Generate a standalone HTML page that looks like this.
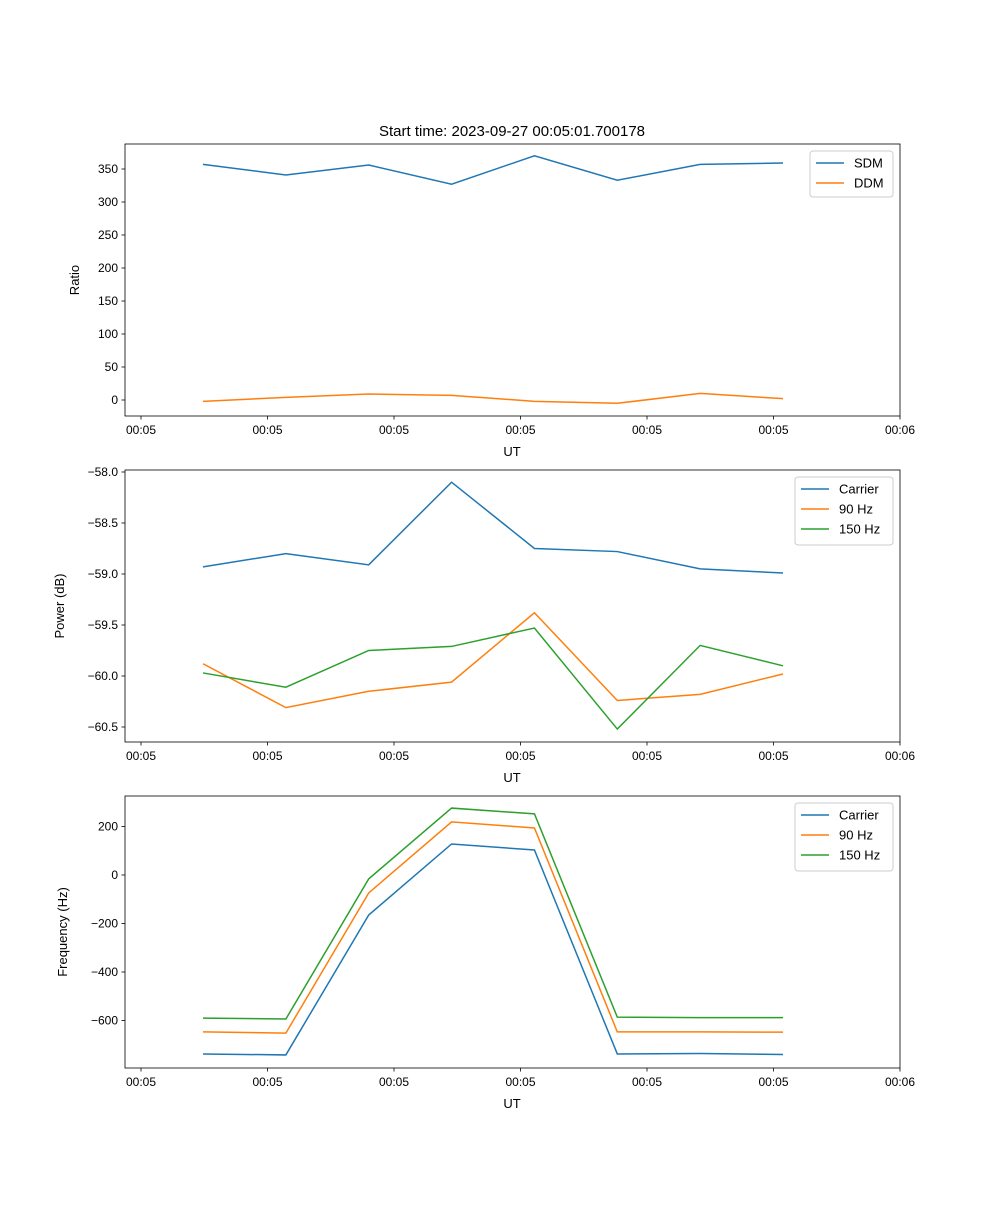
<!DOCTYPE html>
<html><head><meta charset="utf-8"><style>
body{margin:0;background:#fff}
svg{font-family:"Liberation Sans","DejaVu Sans",sans-serif}
</style></head><body>
<svg id="chart" width="1000" height="1200" xmlns="http://www.w3.org/2000/svg"></svg>
<script>
const xIndex=[0,1,2,3,4,5,6,7];
const xTickLabels=["00:05","00:05","00:05","00:05","00:05","00:05","00:06"];
const sdm=[357,341,356,327,370,333,357,359];
const ddm=[-2,4,9,7,-2,-5,10,2];
const ratioTicks=[0,50,100,150,200,250,300,350];
const powCarrier=[-58.93,-58.80,-58.91,-58.10,-58.75,-58.78,-58.95,-58.99];
const pow90=[-59.88,-60.31,-60.15,-60.06,-59.38,-60.24,-60.18,-59.98];
const pow150=[-59.97,-60.11,-59.75,-59.71,-59.53,-60.52,-59.70,-59.90];
const powTicks=[-58.0,-58.5,-59.0,-59.5,-60.0,-60.5];
const freqCarrier=[-738,-742,-165,128,103,-738,-736,-740];
const freq90=[-647,-652,-74,219,194,-647,-647,-648];
const freq150=[-590,-594,-16,276,252,-586,-588,-588];
const freqTicks=[-600,-400,-200,0,200];

const svg=document.getElementById('chart');
const NS="http://www.w3.org/2000/svg";
function el(t,a,p){const e=document.createElementNS(NS,t);for(const k in a)e.setAttribute(k,a[k]);(p||svg).appendChild(e);return e;}
const X0=125,X1=900;
function xs(i){return 203+i*82.86;}
function xt(j){return 141+j*126.5;}
const C=['#1f77b4','#ff7f0e','#2ca02c'];
function panel(name,top,ys,ticks,fmt,ylabel,series,names,leg){
  const g=el('g',{});
  
  
  const bot=top+272;
  series.forEach((s,k)=>{
    const pl=el('polyline',{points:s.map((v,i)=>xs(xIndex[i])+','+ys(v)).join(' '),fill:'none',stroke:C[k],'stroke-width':1.5},g);
    
    
  });
  el('rect',{x:X0,y:top,width:X1-X0,height:272,fill:'none',stroke:'#000','stroke-width':0.8},g);
  ticks.forEach(t=>{const y=ys(t);
    el('line',{x1:X0-3.5,x2:X0,y1:y,y2:y,stroke:'#000','stroke-width':0.8},g);
    const tx=el('text',{x:X0-7,y:y+4,'text-anchor':'end','font-size':12},g);tx.textContent=fmt(t);
    });
  xTickLabels.forEach((l,j)=>{const x=xt(j);
    el('line',{x1:x,x2:x,y1:bot,y2:bot+3.5,stroke:'#000','stroke-width':0.8},g);
    const tx=el('text',{x:x,y:bot+18,'text-anchor':'middle','font-size':12},g);tx.textContent=l;
    });
  const xl=el('text',{x:512,y:bot+40,'text-anchor':'middle','font-size':13},g);xl.textContent='UT';
  
  const yx=leg[4];
  const yl=el('text',{x:yx,y:top+136,'text-anchor':'middle','font-size':13,transform:`rotate(-90 ${yx} ${top+136})`},g);yl.textContent=ylabel;
  
  const lg=el('g',{},g);
  el('rect',{x:leg[0],y:leg[1],width:leg[2],height:leg[3],fill:'#fff',stroke:'#ccc',rx:3},lg);
  names.forEach((n,k)=>{const y=leg[1]+12+k*20;
    el('line',{x1:leg[0]+6,x2:leg[0]+34,y1:y,y2:y,stroke:C[k],'stroke-width':1.5},lg);
    const t=el('text',{x:leg[0]+44,y:y+4.5,'font-size':13},lg);t.textContent=n;
    });
}
panel('ratio-panel',144,v=>400-v*0.66,ratioTicks,t=>String(t),'Ratio',[sdm,ddm],['SDM','DDM'],[810,151,83,46,79]);
panel('power-panel',470,v=>472+(-58-v)*102,powTicks,t=>t.toFixed(1).replace('-','\u2212'),'Power (dB)',[powCarrier,pow90,pow150],['Carrier','90 Hz','150 Hz'],[795,477,98,68,64]);
panel('frequency-panel',796,v=>875-v*0.2425,freqTicks,t=>String(t).replace('-','\u2212'),'Frequency (Hz)',[freqCarrier,freq90,freq150],['Carrier','90 Hz','150 Hz'],[795,803,98,68,67]);
const title=el('text',{x:512,y:136,'text-anchor':'middle','font-size':15});
title.textContent='Start time: 2023-09-27 00:05:01.700178';


</script>
</body></html>
